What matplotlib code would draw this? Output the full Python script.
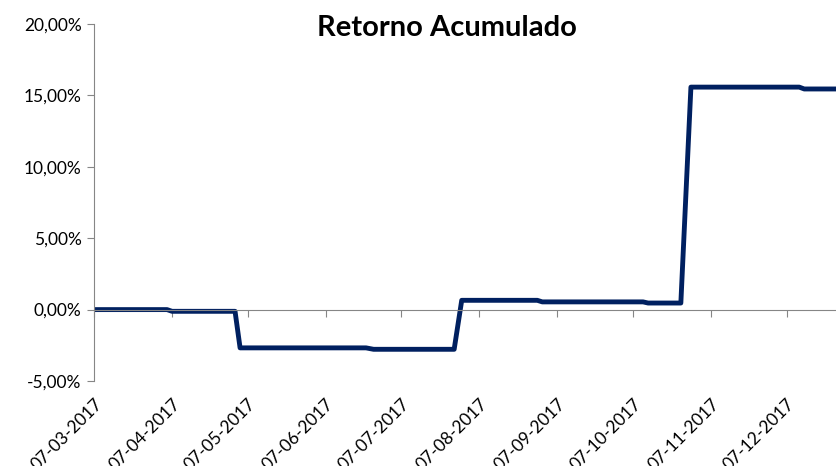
import numpy as np
import pandas as pd
import matplotlib
matplotlib.use("Agg")
import matplotlib.pyplot as plt
import matplotlib.dates as mdates

plt.rcParams['font.family'] = ['Lato', 'DejaVu Sans']

# pontos de quebra (retorno acumulado em %)
datas = ["2017-03-07", "2017-04-05", "2017-04-07", "2017-05-02", "2017-05-04",
         "2017-06-23", "2017-06-26", "2017-07-28", "2017-07-31", "2017-08-30",
         "2017-09-01", "2017-10-11", "2017-10-13", "2017-10-26", "2017-10-30",
         "2017-12-12", "2017-12-14", "2017-12-27"]
retorno = [0.00, 0.00, -0.12, -0.12, -2.68,
           -2.68, -2.78, -2.78, 0.65, 0.65,
           0.54, 0.54, 0.46, 0.46, 15.58,
           15.58, 15.45, 15.45]

ticks_x = ["2017-03-07", "2017-04-07", "2017-05-07", "2017-06-07", "2017-07-07",
           "2017-08-07", "2017-09-07", "2017-10-07", "2017-11-07", "2017-12-07"]
ticks_y = [-5, 0, 5, 10, 15, 20]
labels_y = ["-5,00%", "0,00%", "5,00%", "10,00%", "15,00%", "20,00%"]

fig = plt.figure(figsize=(8.37, 4.66), dpi=100)
ax = fig.add_axes([94/837, 1-381/466, 1-94/837, (381-24)/466])

ax.plot(pd.to_datetime(datas), retorno, color="#002060", lw=3.5,
        solid_joinstyle="round", solid_capstyle="butt", clip_on=False)

ax.set_xlim(pd.Timestamp("2017-03-07"), pd.Timestamp("2017-12-27"))
ax.set_ylim(-5, 20)
ax.set_yticks(ticks_y)
ax.set_yticklabels(labels_y, fontsize=12.5)
ax.set_xticks(pd.to_datetime(ticks_x))
ax.xaxis.set_major_formatter(mdates.DateFormatter("%d-%m-%Y"))

for s in ["top", "right"]:
    ax.spines[s].set_visible(False)
ax.spines["left"].set_color("#868686")
ax.spines["bottom"].set_color("#868686")
ax.spines["bottom"].set_position(("data", 0))
ax.tick_params(axis="y", colors="#868686", length=5, labelcolor="black", pad=4)
ax.tick_params(axis="x", colors="#868686", length=5, labelcolor="black", pad=57)
for lab in ax.get_xticklabels():
    lab.set_rotation(45)
    lab.set_ha("right")
    lab.set_rotation_mode("anchor")
    lab.set_fontsize(12.5)

fig.text(447/837, 1-28/466, "Retorno Acumulado", ha="center", va="center",
         fontsize=21, fontweight="bold")

fig.savefig("out.png", dpi=100)
